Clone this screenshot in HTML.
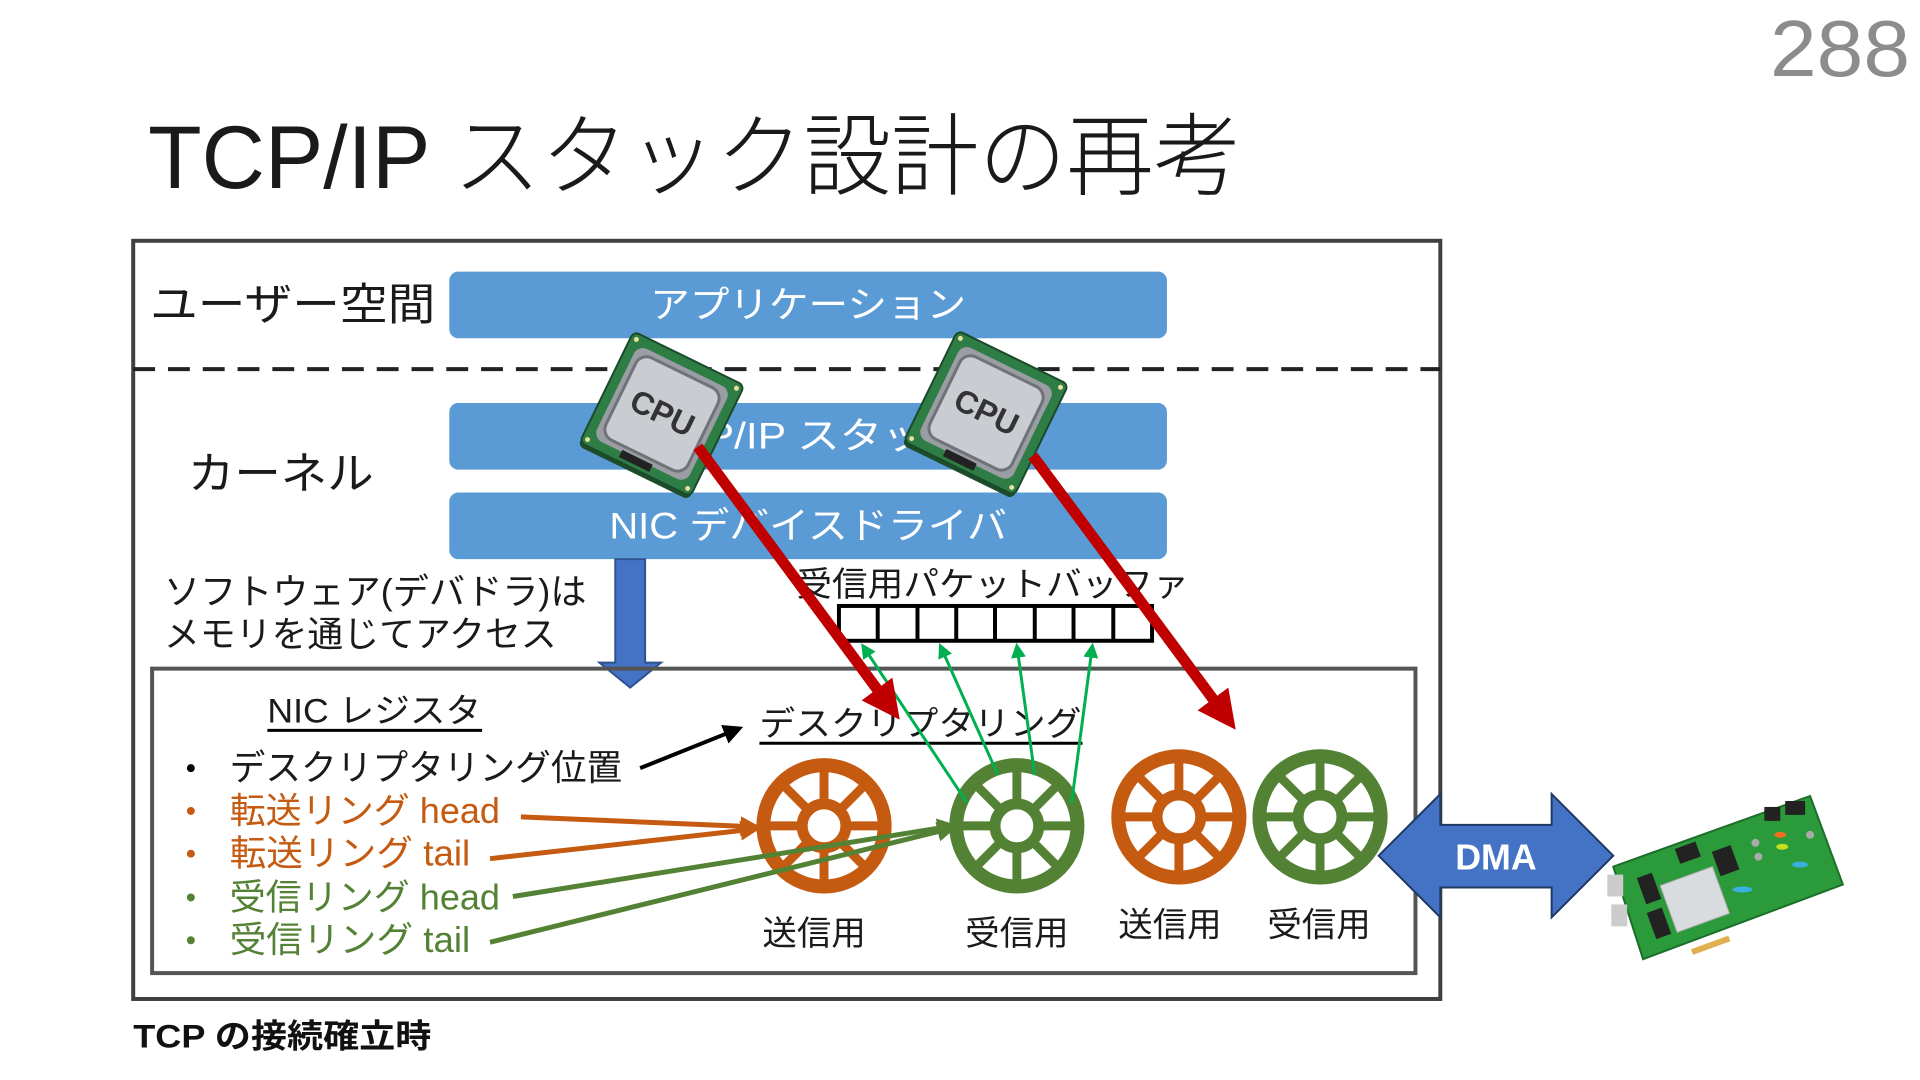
<!DOCTYPE html>
<html><head><meta charset="utf-8"><style>
html,body{margin:0;padding:0;background:#fff;width:1920px;height:1080px;overflow:hidden}
svg{display:block}
text{font-family:"Liberation Sans","Noto Sans CJK JP",sans-serif}
</style></head><body>
<svg width="1920" height="1080" viewBox="0 0 1920 1080" xmlns="http://www.w3.org/2000/svg">
<defs>
<marker id="mo" viewBox="0 0 10 10" refX="8" refY="5" markerWidth="4" markerHeight="4" orient="auto"><path d="M0,0L10,5L0,10z" fill="#c55a11"/></marker>
<marker id="mg" viewBox="0 0 10 10" refX="8" refY="5" markerWidth="4" markerHeight="4" orient="auto"><path d="M0,0L10,5L0,10z" fill="#548235"/></marker>
<marker id="ml" viewBox="0 0 10 10" refX="8" refY="5" markerWidth="5" markerHeight="5" orient="auto"><path d="M0,0L10,5L0,10z" fill="#00b050"/></marker>
<marker id="mr" viewBox="0 0 10 10" refX="6" refY="5" markerWidth="3.5" markerHeight="3.5" orient="auto"><path d="M0,0L10,5L0,10z" fill="#c00000"/></marker>
<marker id="mk" viewBox="0 0 10 10" refX="8" refY="5" markerWidth="5" markerHeight="5" orient="auto"><path d="M0,0L10,5L0,10z" fill="#000"/></marker>
<g id="wheel">
<circle r="61" fill="none" stroke-width="14"/>
<circle r="22" fill="none" stroke-width="11"/>
<g stroke-width="9">
<line x1="0" y1="-22" x2="0" y2="-62"/><line x1="0" y1="22" x2="0" y2="62"/>
<line x1="-22" y1="0" x2="-62" y2="0"/><line x1="22" y1="0" x2="62" y2="0"/>
<line x1="15.6" y1="-15.6" x2="43.8" y2="-43.8"/><line x1="-15.6" y1="-15.6" x2="-43.8" y2="-43.8"/>
<line x1="15.6" y1="15.6" x2="43.8" y2="43.8"/><line x1="-15.6" y1="15.6" x2="-43.8" y2="43.8"/>
</g></g>
<g id="cpu">
<rect x="-62" y="-58" width="124" height="124" rx="6" fill="#1e4d2b"/>
<rect x="-62" y="-62" width="124" height="124" rx="6" fill="#2e7d45" stroke="#1b4a2a" stroke-width="2"/>
<rect x="-52" y="-52" width="104" height="104" rx="10" fill="#9a9ea4"/>
<rect x="-46" y="-46" width="92" height="92" rx="12" fill="#c9ccd1" stroke="#6f7378" stroke-width="3"/>
<rect x="-20" y="50" width="34" height="8" fill="#222"/>
<circle cx="-56" cy="-56" r="2.5" fill="#e8e0a0"/><circle cx="56" cy="-56" r="2.5" fill="#e8e0a0"/><circle cx="-56" cy="56" r="2.5" fill="#e8e0a0"/><circle cx="56" cy="56" r="2.5" fill="#e8e0a0"/>
<text x="0" y="10" text-anchor="middle" font-size="32" font-weight="bold" fill="#333">CPU</text>
</g>
</defs>

<text x="1910" y="76" text-anchor="end" font-size="80" fill="#8c8c8c" font-weight="300" textLength="140" lengthAdjust="spacingAndGlyphs">288</text>
<g transform="translate(1,-1) scale(0.994,0.995)">
<text x="148" y="190" font-size="90" fill="#1a1a1a" font-weight="300" textLength="1100" lengthAdjust="spacingAndGlyphs">TCP/IP スタック設計の再考</text>

<rect x="133" y="243" width="1315" height="762" fill="none" stroke="#404040" stroke-width="4"/>
<line x1="133" y1="372" x2="1448" y2="372" stroke="#222" stroke-width="4" stroke-dasharray="22,13"/>
<text x="150" y="322" font-size="44" fill="#1a1a1a" textLength="287" lengthAdjust="spacingAndGlyphs">ユーザー空間</text>
<text x="188" y="492" font-size="44" fill="#1a1a1a" textLength="187" lengthAdjust="spacingAndGlyphs">カーネル</text>

<rect x="451" y="274" width="722" height="67" rx="9" fill="#5b9bd5"/>
<text x="812" y="320" text-anchor="middle" font-size="37" fill="#fff" textLength="318" lengthAdjust="spacingAndGlyphs">アプリケーション</text>
<rect x="451" y="406" width="722" height="67" rx="9" fill="#5b9bd5"/>
<text x="812" y="452" text-anchor="middle" font-size="37" fill="#fff" textLength="320" lengthAdjust="spacingAndGlyphs">TCP/IP スタック</text>
<rect x="451" y="496" width="722" height="67" rx="9" fill="#5b9bd5"/>
<text x="812" y="542" text-anchor="middle" font-size="37" fill="#fff" textLength="400" lengthAdjust="spacingAndGlyphs">NIC デバイスドライバ</text>

<polygon points="618,563 648,563 648,667 664,667 633,692 602,667 618,667" fill="#4472c4" stroke="#2f528f" stroke-width="2"/>
<text x="164" y="608" font-size="36" fill="#1a1a1a" textLength="425" lengthAdjust="spacingAndGlyphs">ソフトウェア(デバドラ)は</text>
<text x="164" y="651" font-size="36" fill="#1a1a1a" textLength="395" lengthAdjust="spacingAndGlyphs">メモリを通じてアクセス</text>

<text x="800" y="600" font-size="34" fill="#1a1a1a" textLength="395" lengthAdjust="spacingAndGlyphs">受信用パケットバッファ</text>
<rect x="843" y="610" width="315" height="35" fill="#fff" stroke="#000" stroke-width="4"/>
<g stroke="#000" stroke-width="4">
<line x1="882" y1="610" x2="882" y2="645"/><line x1="922" y1="610" x2="922" y2="645"/><line x1="961" y1="610" x2="961" y2="645"/><line x1="1000" y1="610" x2="1000" y2="645"/><line x1="1040" y1="610" x2="1040" y2="645"/><line x1="1079" y1="610" x2="1079" y2="645"/><line x1="1119" y1="610" x2="1119" y2="645"/>
</g>

<rect x="152" y="673" width="1271" height="306" fill="none" stroke="#555" stroke-width="4"/>

<text x="268" y="727" font-size="34" fill="#1a1a1a" textLength="215" lengthAdjust="spacingAndGlyphs">NIC レジスタ</text>
<line x1="268" y1="735" x2="484" y2="735" stroke="#000" stroke-width="3"/>
<text x="763" y="740" font-size="34" fill="#1a1a1a" textLength="324" lengthAdjust="spacingAndGlyphs">デスクリプタリング</text>
<line x1="763" y1="748" x2="1088" y2="748" stroke="#000" stroke-width="3"/>

<g font-size="36">
<circle cx="191" cy="773" r="4" fill="#000"/>
<text x="230" y="785" fill="#1a1a1a" textLength="395" lengthAdjust="spacingAndGlyphs">デスクリプタリング位置</text>
<circle cx="191" cy="816" r="4" fill="#c55a11"/>
<text x="230" y="828" fill="#c55a11" textLength="272" lengthAdjust="spacingAndGlyphs">転送リング head</text>
<circle cx="191" cy="859" r="4" fill="#c55a11"/>
<text x="230" y="871" fill="#c55a11" textLength="242" lengthAdjust="spacingAndGlyphs">転送リング tail</text>
<circle cx="191" cy="903" r="4" fill="#548235"/>
<text x="230" y="915" fill="#548235" textLength="272" lengthAdjust="spacingAndGlyphs">受信リング head</text>
<circle cx="191" cy="946" r="4" fill="#548235"/>
<text x="230" y="958" fill="#548235" textLength="242" lengthAdjust="spacingAndGlyphs">受信リング tail</text>
</g>

<line x1="643" y1="773" x2="743" y2="733" stroke="#000" stroke-width="4" marker-end="url(#mk)"/>

<use href="#wheel" x="828" y="831" stroke="#c55a11"/>
<use href="#wheel" x="1022" y="831" stroke="#548235"/>
<use href="#wheel" x="1185" y="822" stroke="#c55a11"/>
<use href="#wheel" x="1327" y="822" stroke="#548235"/>

<g font-size="34" fill="#1a1a1a">
<text x="766" y="951" textLength="104" lengthAdjust="spacingAndGlyphs">送信用</text>
<text x="970" y="951" textLength="104" lengthAdjust="spacingAndGlyphs">受信用</text>
<text x="1124" y="942" textLength="104" lengthAdjust="spacingAndGlyphs">送信用</text>
<text x="1274" y="942" textLength="104" lengthAdjust="spacingAndGlyphs">受信用</text>
</g>

<line x1="523" y1="822" x2="760" y2="832" stroke="#c55a11" stroke-width="5" marker-end="url(#mo)"/>
<line x1="492" y1="864" x2="760" y2="834" stroke="#c55a11" stroke-width="5" marker-end="url(#mo)"/>
<line x1="515" y1="902" x2="958" y2="831" stroke="#548235" stroke-width="5" marker-end="url(#mg)"/>
<line x1="492" y1="948" x2="958" y2="833" stroke="#548235" stroke-width="5" marker-end="url(#mg)"/>

<g stroke="#00b050" stroke-width="3">
<line x1="972" y1="808" x2="867" y2="650" marker-end="url(#ml)"/>
<line x1="1003" y1="780" x2="945" y2="650" marker-end="url(#ml)"/>
<line x1="1040" y1="780" x2="1022" y2="650" marker-end="url(#ml)"/>
<line x1="1077" y1="808" x2="1098" y2="650" marker-end="url(#ml)"/>
</g>

<use href="#cpu" transform="translate(665,417) rotate(26)"/>
<use href="#cpu" transform="translate(991,416) rotate(26)"/>

<line x1="701" y1="450" x2="895" y2="712" stroke="#c00000" stroke-width="11" marker-end="url(#mr)"/>
<line x1="1038" y1="459" x2="1233" y2="722" stroke="#c00000" stroke-width="11" marker-end="url(#mr)"/>

<polygon points="1386,861 1448,799 1448,830 1560,830 1560,799 1622,861 1560,923 1560,893 1448,893 1448,923" fill="#4472c4" stroke="#1f3864" stroke-width="2"/>
<text x="1504" y="875" text-anchor="middle" font-size="36" font-weight="bold" fill="#fff">DMA</text>

<g>
<polygon points="1622,872 1820,801 1853,890 1652,965" fill="#2a9a3a" stroke="#1c6e2a" stroke-width="2"/>
<rect x="1676" y="880" width="56" height="50" fill="#d8dcdf" transform="rotate(-20 1704 905)" stroke="#aaa"/>
<rect x="1650" y="880" width="16" height="28" fill="#222" transform="rotate(-20 1658 894)"/>
<rect x="1660" y="915" width="16" height="28" fill="#222" transform="rotate(-20 1668 929)"/>
<rect x="1725" y="853" width="20" height="26" fill="#222" transform="rotate(-20 1735 866)"/>
<rect x="1686" y="850" width="22" height="16" fill="#222" transform="rotate(-20 1697 858)"/>
<rect x="1774" y="812" width="16" height="14" fill="#222"/><rect x="1795" y="806" width="20" height="14" fill="#222"/>
<rect x="1616" y="880" width="16" height="22" fill="#ccc"/><rect x="1620" y="910" width="16" height="22" fill="#ccc"/>
<rect x="1700" y="948" width="40" height="6" fill="#e0b050" transform="rotate(-20 1720 951)"/>
<ellipse cx="1790" cy="840" rx="6" ry="3" fill="#f07020"/><ellipse cx="1792" cy="852" rx="6" ry="3" fill="#c8e020"/>
<ellipse cx="1752" cy="895" rx="10" ry="3" fill="#3ab0e0"/><ellipse cx="1810" cy="870" rx="8" ry="3" fill="#3ab0e0"/>
<circle cx="1765" cy="848" r="4" fill="#aaa"/><circle cx="1768" cy="862" r="4" fill="#aaa"/><circle cx="1820" cy="840" r="4" fill="#aaa"/>
</g>

<text x="133" y="1054" font-size="33" font-weight="bold" fill="#111" textLength="300" lengthAdjust="spacingAndGlyphs">TCP の接続確立時</text>
</g>
</svg>
</body></html>
